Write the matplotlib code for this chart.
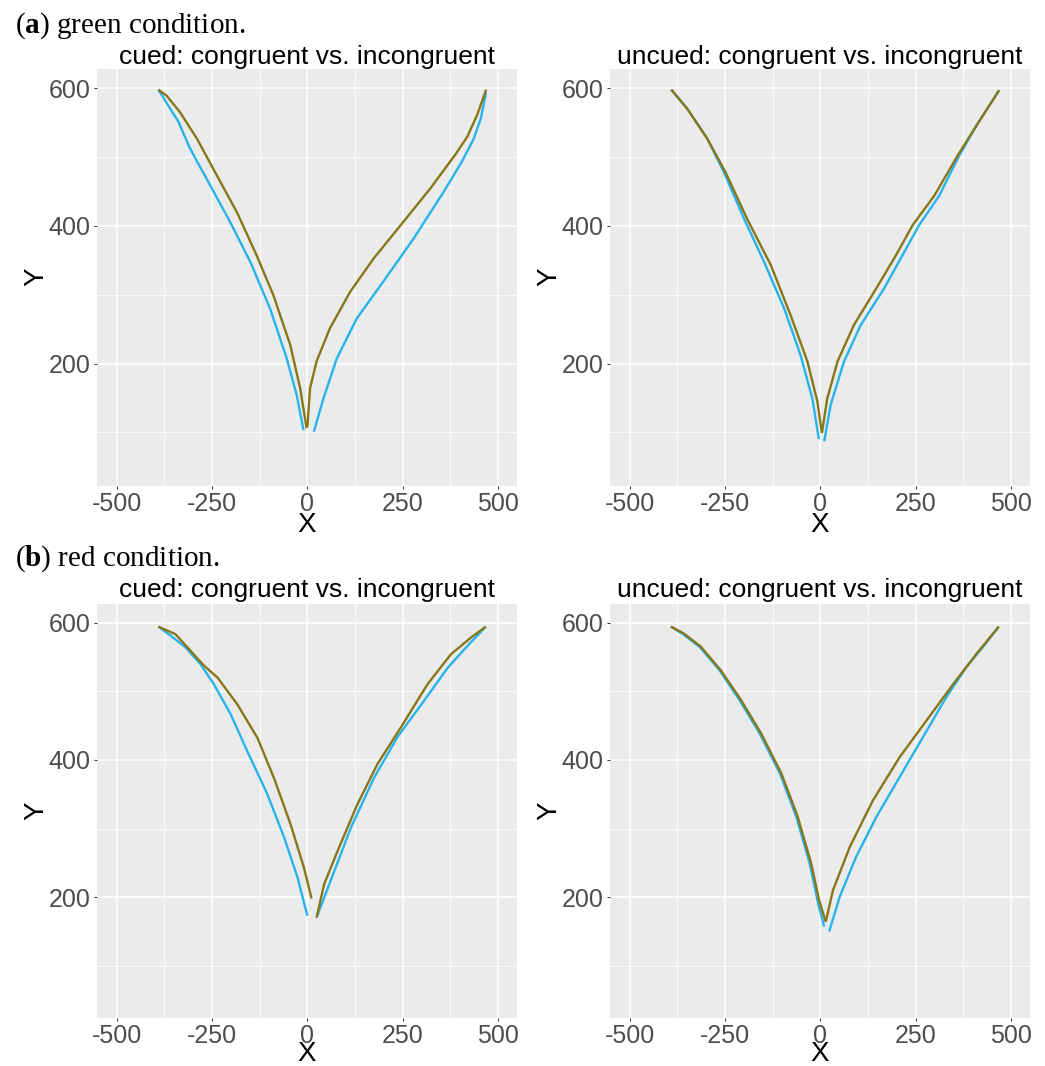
import matplotlib.pyplot as plt
from matplotlib.ticker import FixedLocator

plt.rcParams['mathtext.fontset'] = 'custom'
plt.rcParams['mathtext.rm'] = 'Liberation Serif'
plt.rcParams['mathtext.bf'] = 'Liberation Serif:bold'
plt.rcParams['axes.unicode_minus'] = False

# mean trajectories, (x, y) pairs; each target side is its own path
# green condition, cued
g_cued_blue_left = [(-391, 598), (-373, 582), (-338, 551), (-310, 515), (-290, 494), (-264, 468),
                    (-203, 406), (-150, 348), (-98, 280), (-54, 207), (-28, 154), (-10, 103)]
g_cued_blue_right = [(17, 101), (42, 149), (77, 207), (129, 265), (199, 319), (278, 381),
                     (357, 449), (405, 493), (436, 526), (455, 556), (469, 594)]
g_cued_olive_left = [(-391, 598), (-369, 589), (-334, 565), (-290, 527), (-247, 483), (-185, 420),
                     (-133, 357), (-89, 299), (-45, 227), (-19, 164), (-2, 106)]
g_cued_olive_right = [(0, 108), (7, 164), (24, 203), (59, 251), (112, 304), (173, 352),
                      (252, 406), (322, 454), (390, 505), (420, 530), (446, 562), (469, 598)]

# green condition, uncued
g_uncued_blue_left = [(-391, 598), (-349, 570), (-297, 527), (-253, 478), (-200, 410), (-148, 348),
                      (-95, 280), (-52, 212), (-21, 149), (-4, 90)]
g_uncued_blue_right = [(10, 87), (27, 140), (62, 203), (106, 256), (167, 309), (225, 367),
                       (259, 401), (312, 444), (364, 502), (412, 548), (469, 597)]
g_uncued_olive_left = [(-391, 598), (-349, 570), (-297, 527), (-249, 478), (-192, 410), (-130, 343),
                       (-78, 270), (-34, 203), (-8, 145), (4, 99)]
g_uncued_olive_right = [(4, 99), (18, 149), (45, 203), (88, 256), (141, 304), (198, 357),
                        (242, 401), (299, 444), (360, 502), (412, 548), (469, 597)]

# red condition, cued
r_cued_blue_left = [(-391, 594), (-359, 581), (-320, 564), (-280, 539), (-245, 510), (-201, 466),
                    (-158, 413), (-105, 350), (-61, 287), (-26, 229), (0, 173)]
r_cued_blue_right = [(26, 173), (61, 224), (114, 301), (175, 374), (236, 433), (306, 486),
                     (368, 534), (420, 566), (468, 594)]
r_cued_olive_left = [(-391, 594), (-346, 583), (-315, 564), (-271, 537), (-236, 520), (-184, 481),
                     (-131, 432), (-88, 374), (-44, 306), (-9, 243), (11, 198)]
r_cued_olive_right = [(24, 170), (44, 219), (79, 267), (131, 335), (184, 394), (245, 447),
                      (315, 510), (377, 554), (429, 578), (468, 594)]

# red condition, uncued
r_uncued_blue_left = [(-392, 594), (-360, 583), (-316, 564), (-264, 530), (-211, 486), (-159, 438),
                      (-106, 380), (-63, 317), (-28, 249), (-6, 191), (10, 157)]
r_uncued_blue_right = [(23, 150), (51, 201), (94, 259), (147, 317), (208, 375), (269, 433),
                       (330, 491), (383, 535), (426, 564), (468, 594)]
r_uncued_olive_left = [(-392, 594), (-358, 584), (-314, 565), (-262, 531), (-208, 487), (-156, 439),
                       (-103, 381), (-60, 318), (-25, 251), (-3, 195), (14, 164)]
r_uncued_olive_right = [(14, 164), (33, 210), (77, 273), (138, 341), (208, 404), (278, 457),
                        (348, 510), (409, 554), (468, 594)]

titles = ["cued: congruent vs. incongruent", "uncued: congruent vs. incongruent"]
x_major = [-500, -250, 0, 250, 500]
x_minor = [-375, -125, 125, 375]
y_major = [200, 400, 600]
y_minor = [100, 300, 500]

blue = '#27B4EC'
olive = '#877719'

W, H = 1045, 1066


def box(left, top, right, bottom):
    return [left / W, 1 - bottom / H, (right - left) / W, (bottom - top) / H]


fig = plt.figure(figsize=(W / 100, H / 100), dpi=100)

panels = [
    (box(97, 69, 517, 486), titles[0], (22, 628), 2.2,
     [g_cued_blue_left, g_cued_blue_right], [g_cued_olive_left, g_cued_olive_right]),
    (box(610, 69, 1030, 486), titles[1], (22, 628), 2.2,
     [g_uncued_blue_left, g_uncued_blue_right], [g_uncued_olive_left, g_uncued_olive_right]),
    (box(97, 604, 517, 1018), titles[0], (24, 627), 5.0,
     [r_cued_blue_left, r_cued_blue_right], [r_cued_olive_left, r_cued_olive_right]),
    (box(610, 604, 1030, 1018), titles[1], (24, 627), 5.0,
     [r_uncued_blue_left, r_uncued_blue_right], [r_uncued_olive_left, r_uncued_olive_right]),
]

for rect, title, ylim, tpad, blues, olives in panels:
    ax = fig.add_axes(rect)
    ax.set_facecolor('#EBEBEB')
    for s in ax.spines.values():
        s.set_visible(False)
    for path in blues:
        ax.plot([p[0] for p in path], [p[1] for p in path], color=blue, lw=1.7,
                solid_capstyle='butt', solid_joinstyle='round')
    for path in olives:
        ax.plot([p[0] for p in path], [p[1] for p in path], color=olive, lw=1.7,
                solid_capstyle='butt', solid_joinstyle='round')
    ax.set_xlim(-552, 550)
    ax.set_ylim(*ylim)
    ax.xaxis.set_major_locator(FixedLocator(x_major))
    ax.xaxis.set_minor_locator(FixedLocator(x_minor))
    ax.yaxis.set_major_locator(FixedLocator(y_major))
    ax.yaxis.set_minor_locator(FixedLocator(y_minor))
    ax.grid(True, which='major', color='white', lw=1.1)
    ax.grid(True, which='minor', color='white', lw=0.55)
    ax.set_axisbelow(True)
    ax.tick_params(which='major', length=2.5, width=0.7, color='#333333',
                   labelsize=18, labelcolor='#4D4D4D', pad=2)
    ax.tick_params(which='minor', length=0)
    for lab in ax.get_xticklabels() + ax.get_yticklabels():
        lab.set_fontfamily('Liberation Sans')
    ax.set_title(title, fontsize=19, fontfamily='Liberation Sans', pad=tpad)

# axis labels
for cx in [307, 820]:
    for by in [532, 1061]:
        fig.text(cx / W, 1 - by / H, 'X', fontsize=20, fontfamily='Liberation Sans',
                 ha='center', va='baseline')
for cy in [277, 811]:
    fig.text(43 / W, 1 - cy / H, 'Y', fontsize=20, fontfamily='Liberation Sans',
             rotation=90, ha='center', va='baseline', rotation_mode='anchor')
    fig.text(556 / W, 1 - cy / H, 'Y', fontsize=20, fontfamily='Liberation Sans',
             rotation=90, ha='center', va='baseline', rotation_mode='anchor')

fig.text(15 / W, 1 - 33 / H, r'($\mathbf{a}$) green condition.', fontsize=21,
         fontfamily='Liberation Serif', va='baseline')
fig.text(15 / W, 1 - 566 / H, r'($\mathbf{b}$) red condition.', fontsize=21,
         fontfamily='Liberation Serif', va='baseline')

fig.savefig('out.png', dpi=100)
